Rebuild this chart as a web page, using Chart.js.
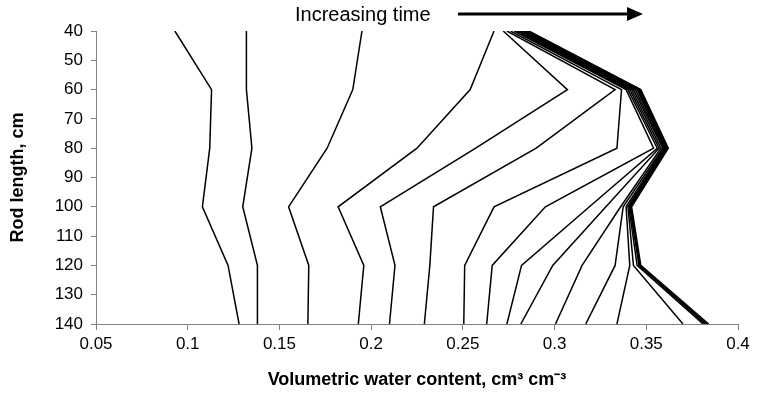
<!DOCTYPE html>
<html>
<head>
<meta charset="utf-8">
<script src="https://cdn.jsdelivr.net/npm/chart.js@4.4.1/dist/chart.umd.min.js"></script>
<style>
  html, body { margin: 0; padding: 0; background: #fff; }
  #wrap { width: 757px; height: 407px; }
</style>
</head>
<body>
<div id="wrap"><canvas id="profile"></canvas></div>
<script>
// rod length (depth) at which each water content was read, cm
var depths = [40, 60, 80, 100, 120, 140];

// volumetric water content profiles, earliest to latest
var t1  = [0.093, 0.113, 0.112, 0.108, 0.122, 0.128];
var t2  = [0.132, 0.132, 0.135, 0.130, 0.138, 0.138];
var t3  = [0.195, 0.190, 0.176, 0.155, 0.166, 0.1655];
var t4  = [0.267, 0.254, 0.225, 0.182, 0.196, 0.193];
var t5  = [0.272, 0.307, 0.257, 0.205, 0.213, 0.210];
var t6  = [0.274, 0.333, 0.290, 0.234, 0.232, 0.229];
var t7  = [0.276, 0.3365, 0.334, 0.267, 0.251, 0.2505];
var t8  = [0.278, 0.339, 0.354, 0.295, 0.266, 0.263];
var t9  = [0.279, 0.340, 0.356, 0.319, 0.282, 0.274];
var t10 = [0.280, 0.341, 0.357, 0.328, 0.299, 0.2816];
var t11 = [0.281, 0.342, 0.358, 0.336, 0.315, 0.3005];
var t12 = [0.282, 0.343, 0.359, 0.3374, 0.333, 0.317];
var t13 = [0.283, 0.344, 0.3595, 0.339, 0.341, 0.334];
var t14 = [0.284, 0.345, 0.360, 0.340, 0.343, 0.370];
var t15 = [0.2845, 0.3455, 0.3605, 0.3405, 0.345, 0.381];
var t16 = [0.285, 0.346, 0.361, 0.341, 0.346, 0.382];
var t17 = [0.2855, 0.3465, 0.3615, 0.3415, 0.3465, 0.383];
var t18 = [0.286, 0.347, 0.362, 0.342, 0.347, 0.384];

var profiles = [t1, t2, t3, t4, t5, t6, t7, t8, t9, t10, t11, t12, t13, t14, t15, t16, t17, t18];

var FONT = 'Liberation Sans, Arial, sans-serif';
var AXIS_GREY = '#808080';

// "Increasing time" label with its arrow, drawn above the plot
var timeArrow = {
  id: 'timeArrow',
  afterDraw: function (chart) {
    var ctx = chart.ctx;
    ctx.save();
    ctx.fillStyle = '#000';
    ctx.strokeStyle = '#000';
    ctx.font = '20px ' + FONT;
    ctx.textBaseline = 'alphabetic';
    ctx.fillText('Increasing time', 295, 21);
    ctx.lineWidth = 3;
    ctx.beginPath();
    ctx.moveTo(458, 14);
    ctx.lineTo(630, 14);
    ctx.stroke();
    ctx.beginPath();
    ctx.moveTo(627, 7);
    ctx.lineTo(643, 14);
    ctx.lineTo(627, 21);
    ctx.closePath();
    ctx.fill();
    ctx.restore();
  },
};

var datasets = profiles.map(function (p) {
  return {
    data: p.map(function (v, i) { return { x: v, y: depths[i] }; }),
    showLine: true,
    borderColor: '#000',
    borderWidth: 1.5,
    pointRadius: 0,
    tension: 0,
    fill: false,
  };
});

new Chart(document.getElementById('profile'), {
  type: 'scatter',
  data: { datasets: datasets },
  plugins: [timeArrow],
  options: {
    responsive: true,
    maintainAspectRatio: false,
    animation: false,
    devicePixelRatio: 1,
    layout: { padding: { top: 31, right: 19, left: 0, bottom: 0 } },
    plugins: {
      legend: { display: false },
      tooltip: { enabled: false },
    },
    scales: {
      x: {
        type: 'linear',
        min: 0.05,
        max: 0.4,
        ticks: {
          stepSize: 0.05,
          color: '#000',
          padding: 4,
          font: { family: FONT, size: 17 },
          callback: function (v) { return String(+v.toFixed(2)); },
        },
        grid: { drawOnChartArea: false, drawTicks: true, tickLength: 6, color: AXIS_GREY },
        border: { color: AXIS_GREY, width: 1 },
        title: {
          display: true,
          text: 'Volumetric water content, cm\u00b3 cm\u207b\u00b3',
          color: '#000',
          font: { family: FONT, size: 18, weight: 'bold' },
          padding: { top: 0, bottom: 16 },
        },
        afterFit: function (scale) { scale.height = 83; },
      },
      y: {
        type: 'linear',
        min: 40,
        max: 140,
        reverse: true,
        ticks: {
          stepSize: 10,
          color: '#000',
          padding: 8,
          font: { family: FONT, size: 17 },
        },
        grid: { drawOnChartArea: false, drawTicks: true, tickLength: 5, color: AXIS_GREY },
        border: { color: AXIS_GREY, width: 1 },
        title: {
          display: true,
          text: 'Rod length, cm',
          color: '#000',
          font: { family: FONT, size: 18, weight: 'bold' },
          padding: { top: 7, bottom: 0 },
        },
        afterFit: function (scale) { scale.width = 96; },
      },
    },
  },
});
</script>
</body>
</html>
